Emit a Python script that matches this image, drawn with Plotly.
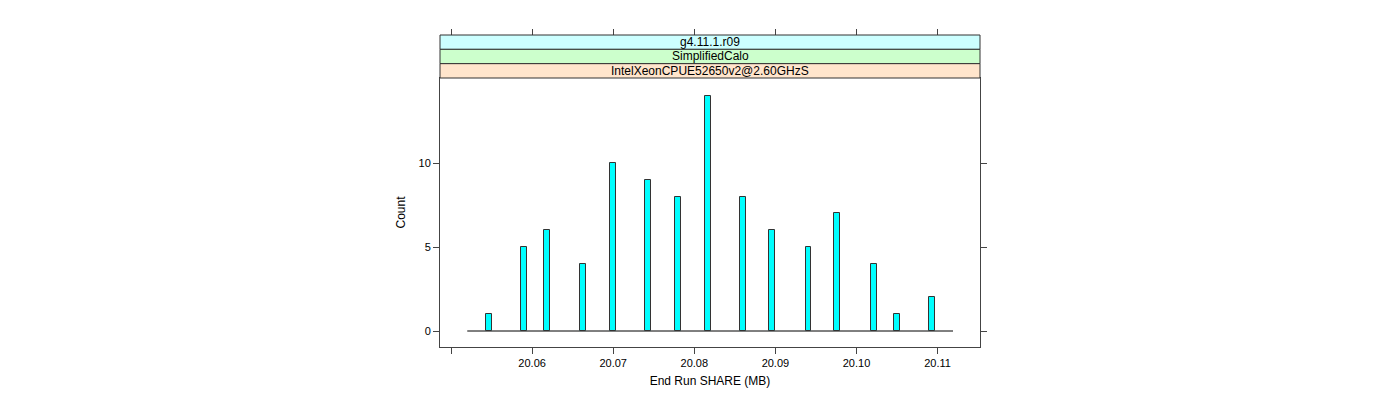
import plotly.graph_objects as go

# ---- data ----
share_values = [20.05465, 20.05900, 20.06187, 20.06628, 20.06998, 20.07433, 20.07799,
                20.08165, 20.08600, 20.08962, 20.09408, 20.09760, 20.10212, 20.10497, 20.10935]
counts = [1, 5, 6, 4, 10, 9, 8, 14, 8, 6, 5, 7, 4, 1, 2]
breaks_range = [20.0520, 20.1119]
x_tick_vals = [20.05, 20.06, 20.07, 20.08, 20.09, 20.10, 20.11]
x_tick_text = ["", "20.06", "20.07", "20.08", "20.09", "20.10", "20.11"]
y_tick_vals = [0, 5, 10]
strip_labels = ["g4.11.1.r09", "SimplifiedCalo", "IntelXeonCPUE52650v2@2.60GHzS"]
strip_colors = ["#CCFFFF", "#CCFFCC", "#FFE5CC"]

FONT = "Liberation Sans, Arial, Helvetica, sans-serif"
AXC = "#444444"
xr = [20.04864, 20.11523]
yr = [-0.952, 15.06]

W, H = 1400, 400
OFF = 8  # page body margin
ml = 440 - OFF
mr = W - (980 - OFF)
mt = 35 - OFF
mb = H - (347 - OFF)
plot_h = H - mt - mb
panel_top = (347 - 78) / plot_h

fig = go.Figure()
fig.add_trace(go.Bar(
    x=share_values, y=counts, width=0.00072,
    marker=dict(color="#00FFFF", line=dict(color="#333333", width=1)),
    showlegend=False, hoverinfo="x+y",
))
# invisible trace to activate top axis
fig.add_trace(go.Scatter(x=[xr[0]], y=[0], xaxis="x2", mode="markers",
                         marker=dict(opacity=0), showlegend=False, hoverinfo="skip"))

shapes = [dict(type="line", xref="x", yref="y", x0=breaks_range[0], x1=breaks_range[1],
               y0=0, y1=0, line=dict(color="black", width=1), layer="below")]
annotations = []
strip_h = (1 - panel_top) / len(strip_labels)
for i, (lab, col) in enumerate(zip(strip_labels, strip_colors)):
    y1 = 1 - i * strip_h
    y0 = y1 - strip_h
    shapes.append(dict(type="rect", xref="paper", yref="paper", x0=0, x1=1, y0=y0, y1=y1,
                       fillcolor=col, line=dict(color="#333333", width=1), layer="above"))
    annotations.append(dict(xref="paper", yref="paper", x=0.5, y=(y0 + y1) / 2, text=lab,
                            showarrow=False, font=dict(family=FONT, size=12, color="black"),
                            xanchor="center", yanchor="middle"))

fig.update_layout(
    width=W, height=H,
    margin=dict(l=ml, r=mr, t=mt, b=mb),
    paper_bgcolor="white", plot_bgcolor="white",
    font=dict(family=FONT, size=11, color="black"),
    bargap=0,
    xaxis=dict(range=xr, domain=[0, 1], tickvals=x_tick_vals, ticktext=x_tick_text,
               ticks="outside", ticklen=6, tickcolor=AXC, showline=True, linecolor=AXC,
               mirror=True, showgrid=False, zeroline=False, anchor="y",
               title=dict(text="End Run SHARE (MB)", font=dict(size=12), standoff=8),
               tickfont=dict(size=11)),
    xaxis2=dict(range=xr, overlaying="x", side="top", anchor="free", position=1,
                tickvals=x_tick_vals, showticklabels=False, ticks="outside", ticklen=6,
                tickcolor=AXC, showline=False, showgrid=False, zeroline=False),
    yaxis=dict(range=yr, domain=[0, panel_top], tickvals=y_tick_vals,
               ticks="outside", ticklen=6, tickcolor=AXC, showline=True, linecolor=AXC,
               mirror="ticks", showgrid=False, zeroline=False,
               title=dict(text="Count", font=dict(size=12), standoff=10),
               tickfont=dict(size=11)),
    shapes=shapes, annotations=annotations,
)

fig.write_html("out.html")
